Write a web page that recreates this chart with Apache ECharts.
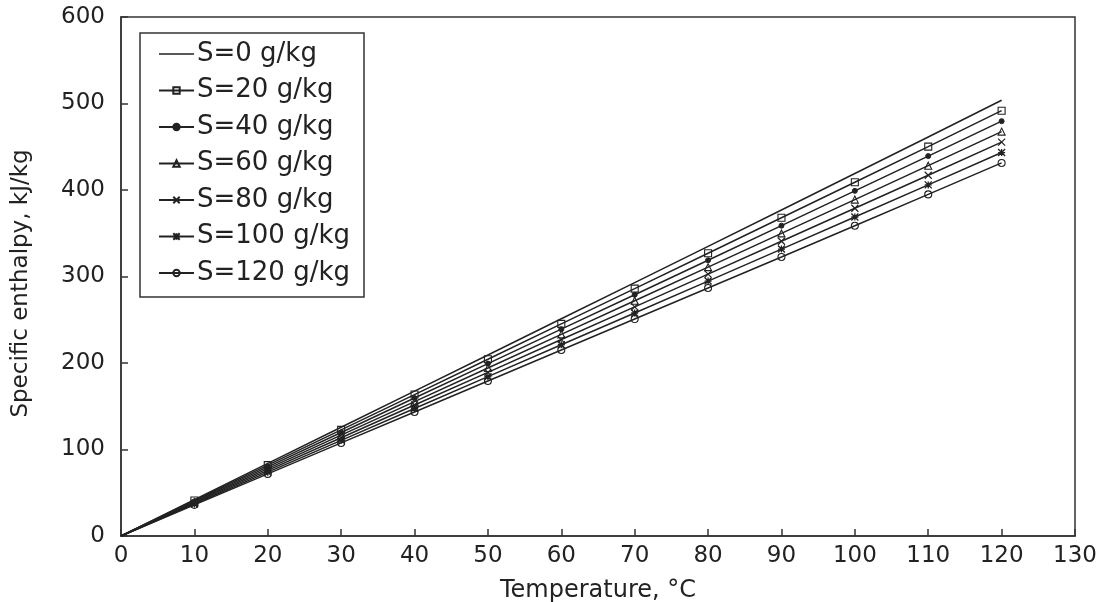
<!DOCTYPE html>
<html>
<head>
<meta charset="utf-8">
<script src="https://cdn.jsdelivr.net/npm/echarts@6/dist/echarts.min.js"></script>
<style>
  html, body { margin: 0; padding: 0; background: #fff; }
  #chart { width: 1102px; height: 602px; }
</style>
</head>
<body>
<div id="chart"></div>
<script>
// Temperature, °C
const temps = [0, 10, 20, 30, 40, 50, 60, 70, 80, 90, 100, 110, 120];

// Specific enthalpy, kJ/kg, for each salinity
const s0   = [0, 42.0, 83.9, 125.7, 167.5, 209.3, 251.2, 293.0, 334.9, 376.9, 419.1, 461.3, 503.8];
const s20  = [0, 41.0, 81.9, 122.7, 163.5, 204.3, 245.2, 286.0, 326.9, 367.9, 409.0, 450.2, 491.7];
const s40  = [0, 40.0, 79.9, 119.7, 159.5, 199.3, 239.1, 278.9, 318.8, 358.8, 399.0, 439.2, 479.6];
const s60  = [0, 39.0, 77.9, 116.6, 155.4, 194.2, 233.1, 271.9, 310.8, 349.8, 388.9, 428.1, 467.5];
const s80  = [0, 38.0, 75.8, 113.6, 151.4, 189.2, 227.1, 264.9, 302.7, 340.7, 378.9, 417.0, 455.4];
const s100 = [0, 37.0, 73.8, 110.6, 147.4, 184.2, 221.1, 257.8, 294.7, 331.7, 368.8, 405.9, 443.3];
const s120 = [0, 36.0, 71.8, 107.6, 143.4, 179.2, 215.0, 250.8, 286.7, 322.6, 358.7, 394.9, 431.3];

const seriesNames = ['S=0 g/kg', 'S=20 g/kg', 'S=40 g/kg', 'S=60 g/kg', 'S=80 g/kg', 'S=100 g/kg', 'S=120 g/kg'];
const seriesValues = [s0, s20, s40, s60, s80, s100, s120];

const xTicks = [0, 10, 20, 30, 40, 50, 60, 70, 80, 90, 100, 110, 120, 130];
const yTicks = [0, 100, 200, 300, 400, 500, 600];

const ink = '#222';
const font = 'DejaVu Sans, Verdana, sans-serif';

// marker shape per salinity (pure water curve has none)
const markers = [
  { symbol: 'none', size: 0, fill: ink, border: 0 },
  { symbol: 'rect', size: 7, fill: 'transparent', border: 1.1 },
  { symbol: 'circle', size: 5, fill: ink, border: 1 },
  { symbol: 'triangle', size: 7, fill: 'transparent', border: 1.1 },
  { symbol: 'path://M0,0L10,10M10,0L0,10', size: 7, fill: 'transparent', border: 1.2 },
  { symbol: 'path://M0,0L10,10M10,0L0,10M0,5L10,5M5,0L5,10', size: 7, fill: 'transparent', border: 1.3 },
  { symbol: 'circle', size: 7, fill: 'transparent', border: 1.1 }
];

const series = seriesNames.map((name, i) => {
  const m = markers[i];
  const data = temps.map((t, k) => {
    const item = { value: [t, seriesValues[i][k]] };
    if (k === 0) item.symbol = 'none';
    return item;
  });
  return {
    name: name,
    type: 'line',
    data: data,
    symbol: m.symbol,
    symbolSize: m.size,
    showSymbol: m.symbol !== 'none',
    animation: false,
    z: 10 - i,
    lineStyle: { color: ink, width: 1.5 },
    itemStyle: { color: m.fill, borderColor: ink, borderWidth: m.border }
  };
});

// legend entries; the pure water curve is shown as a bare line
const legendData = seriesNames.map((name, i) =>
  i === 0
    ? { name: name, icon: 'path://M0,0L70,0L70,3L0,3Z', itemStyle: { color: ink, borderWidth: 0 } }
    : { name: name }
);

const chart = echarts.init(document.getElementById('chart'), null, { renderer: 'canvas' });
chart.setOption({
  backgroundColor: '#fff',
  animation: false,
  textStyle: { fontFamily: font, color: ink },
  grid: {
    left: 121, right: 27, top: 17, bottom: 66,
    outerBoundsMode: 'none',
    containLabel: false,
    show: true, borderColor: '#333', borderWidth: 1.5, backgroundColor: 'transparent'
  },
  legend: {
    orient: 'vertical',
    left: 140, top: 33,
    padding: [8, 14, 11, 18],
    itemWidth: 35, itemHeight: 8, itemGap: 10.5,
    borderColor: '#333', borderWidth: 1.5,
    backgroundColor: '#fff',
    textStyle: { fontFamily: font, fontSize: 26, lineHeight: 25, color: ink, padding: [0, 0, 0, -2] },
    data: legendData
  },
  xAxis: {
    type: 'value',
    min: xTicks[0], max: xTicks[xTicks.length - 1], interval: 10,
    name: 'Temperature, °C',
    nameLocation: 'middle', nameGap: 43,
    nameTextStyle: { fontFamily: font, fontSize: 24, color: ink },
    axisLine: { show: true, lineStyle: { color: '#333', width: 1.5 } },
    axisTick: { show: true, inside: true, length: 7, lineStyle: { color: '#333', width: 1.5 } },
    axisLabel: { fontFamily: font, fontSize: 23, color: ink, margin: 9 },
    splitLine: { show: false }
  },
  yAxis: {
    type: 'value',
    min: yTicks[0], max: yTicks[yTicks.length - 1], interval: 100,
    name: 'Specific enthalpy, kJ/kg',
    nameLocation: 'middle', nameGap: 88,
    nameTextStyle: { fontFamily: font, fontSize: 23, color: ink, padding: [0, 14, 0, 0] },
    axisLine: { show: true, lineStyle: { color: '#333', width: 1.5 } },
    axisTick: { show: true, inside: true, length: 7, lineStyle: { color: '#333', width: 1.5 } },
    axisLabel: { fontFamily: font, fontSize: 23, color: ink, margin: 16 },
    splitLine: { show: false }
  },
  series: series
});
</script>
</body>
</html>
